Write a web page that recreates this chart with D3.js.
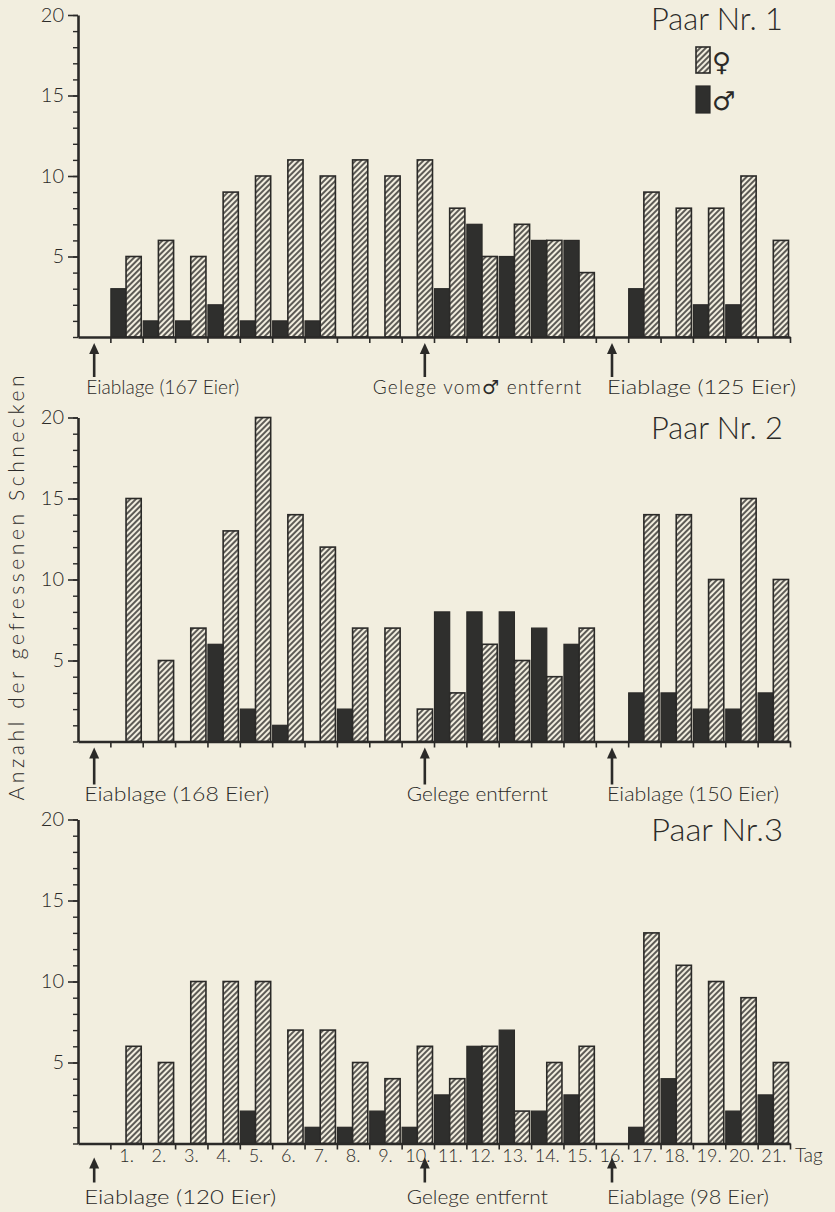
<!DOCTYPE html>
<html>
<head>
<meta charset="utf-8">
<script src="https://cdn.jsdelivr.net/npm/d3@7"></script>
<style>
  body { margin: 0; background: #f2eedf; }
  svg { display: block; }
</style>
</head>
<body>
<script>
// data: snails eaten per day, female (hatched) and male (black)
const days = d3.range(1, 22);
const yTicks = [0, 5, 10, 15, 20];
const titles = ["Paar Nr. 1", "Paar Nr. 2", "Paar Nr.3"];

const female1 = [5, 6, 5, 9, 10, 11, 10, 11, 10, 11, 8, 5, 7, 6, 4, 0, 9, 8, 8, 10, 6];
const male1   = [3, 1, 1, 2, 1, 1, 1, 0, 0, 0, 3, 7, 5, 6, 6, 0, 3, 0, 2, 2, 0];
const female2 = [15, 5, 7, 13, 20, 14, 12, 7, 7, 2, 3, 6, 5, 4, 7, 0, 14, 14, 10, 15, 10];
const male2   = [0, 0, 0, 6, 2, 1, 0, 2, 0, 0, 8, 8, 8, 7, 6, 0, 3, 3, 2, 2, 3];
const female3 = [6, 5, 10, 10, 10, 7, 7, 5, 4, 6, 4, 6, 2, 5, 6, 0, 13, 11, 10, 9, 5];
const male3   = [0, 0, 0, 0, 2, 0, 1, 1, 2, 1, 3, 6, 7, 2, 3, 0, 1, 4, 0, 2, 3];

// events under each panel (day index, label)
const events1 = [{ day: 0, label: "Eiablage (167 Eier)" }, { day: 10, label: "Gelege vom\u2642 entfernt" }, { day: 16, label: "Eiablage (125 Eier)" }];
const events2 = [{ day: 0, label: "Eiablage (168 Eier)" }, { day: 10, label: "Gelege entfernt" }, { day: 16, label: "Eiablage (150 Eier)" }];
const events3 = [{ day: 0, label: "Eiablage (120 Eier)" }, { day: 10, label: "Gelege entfernt" }, { day: 16, label: "Eiablage (98 Eier)" }];

// ---- layout / style
var paper = "#f2eedf";
var ink = "#2b2a28";
var fontF = "Lato, 'DejaVu Sans', sans-serif";

const panels = [
  { female: female1, male: male1, events: events1, base: 337, top: 15, arrow: [6, 40], textY: 57, widths: [153, 198, 189], shift: [-8, -52, -5] },
  { female: female2, male: male2, events: events2, base: 741.5, top: 417.5, arrow: [6, 43], textY: 59, widths: [185, 141, 172], shift: [-10, -18, -5] },
  { female: female3, male: male3, events: events3, base: 1143.5, top: 819.5, arrow: [14, 39], textY: 60, widths: [192, 141, 162], shift: [-10, -18, -5] }
];
const arrowShift = [0, 7, 0];

const svg = d3.select("body").append("svg")
  .attr("width", 835)
  .attr("height", 1212);

svg.append("rect").attr("width", 835).attr("height", 1212).attr("fill", paper);

const defs = svg.append("defs");
const pat = defs.append("pattern")
  .attr("id", "hatch")
  .attr("patternUnits", "userSpaceOnUse")
  .attr("width", 4).attr("height", 4)
  .attr("patternTransform", "rotate(45)");
pat.append("rect").attr("width", 4).attr("height", 4).attr("fill", paper);
pat.append("line").attr("x1", 1).attr("y1", 0).attr("x2", 1).attr("y2", 4)
  .attr("stroke", ink).attr("stroke-width", 1.5);

// X scale: band 0 is the day of egg laying, then days 1..21
const x = d3.scaleBand().domain(d3.range(0, 22)).range([78, 790]).padding(0);
const bw = x.bandwidth();
const xSub = d3.scaleBand().domain(["m", "f"]).range([0.5, bw - 1.5]).padding(0);
const xEdge = d3.scaleLinear().domain([0, 22]).range([78, 790]);

panels.forEach(function (p, pi) {
  const g = svg.append("g");
  const y = d3.scaleLinear().domain([0, 20]).range([p.base, p.top]);

  const rows = days.map(function (d, i) {
    return { day: d, f: p.female[i], m: p.male[i] };
  });

  // male bars (black)
  g.selectAll(".male")
    .data(rows.filter(d => d.m > 0))
    .enter().append("rect")
    .attr("x", d => x(d.day) + xSub("m"))
    .attr("y", d => y(d.m))
    .attr("width", xSub.bandwidth())
    .attr("height", d => y(0) - y(d.m))
    .attr("fill", "#2f2f2d")
    .attr("stroke", ink)
    .attr("stroke-width", 1.2);

  // female bars (hatched)
  g.selectAll(".female")
    .data(rows.filter(d => d.f > 0))
    .enter().append("rect")
    .attr("x", d => x(d.day) + xSub("f"))
    .attr("y", d => y(d.f))
    .attr("width", xSub.bandwidth())
    .attr("height", d => y(0) - y(d.f))
    .attr("fill", "url(#hatch)")
    .attr("stroke", ink)
    .attr("stroke-width", 1.6);

  // minor y ticks
  g.append("g")
    .attr("transform", `translate(78,0)`)
    .call(d3.axisLeft(y).ticks(20).tickSize(5).tickFormat(""))
    .call(a => a.select(".domain").remove())
    .selectAll("line").attr("stroke", ink).attr("stroke-width", 1.4);

  // major y ticks with labels
  const yAx = g.append("g")
    .attr("transform", `translate(78,0)`)
    .call(d3.axisLeft(y).tickValues(yTicks.filter(v => v > 0)).tickSize(10).tickPadding(4).tickSizeOuter(0));
  yAx.select(".domain").attr("stroke", ink).attr("stroke-width", 2.6);
  yAx.selectAll("line").attr("stroke", ink).attr("stroke-width", 1.6);
  yAx.selectAll("text")
    .style("font-family", fontF)
    .style("font-weight", 300)
    .style("font-size", "20px")
    .attr("fill", ink);

  // x axis baseline with day ticks
  const xAx = g.append("g")
    .attr("transform", `translate(0,${p.base})`)
    .call(d3.axisBottom(xEdge).tickValues(d3.range(1, 23)).tickSize(6).tickFormat("").tickSizeOuter(0));
  xAx.select(".domain").attr("stroke", ink).attr("stroke-width", 2.6);
  xAx.selectAll("line").attr("stroke", ink).attr("stroke-width", 1.6);

  // panel title
  g.append("text")
    .attr("x", 651)
    .attr("y", p.top + (pi === 0 ? 15 : 21))
    .attr("textLength", 132)
    .attr("lengthAdjust", "spacingAndGlyphs")
    .style("font-family", fontF)
    .style("font-weight", 300)
    .style("font-size", "31px")
    .attr("fill", ink)
    .text(titles[pi]);

  // day labels only under the last panel
  if (pi === 2) {
    g.selectAll(".daylab")
      .data(days)
      .enter().append("text")
      .attr("x", d => x(d) + bw / 2)
      .attr("y", p.base + 18)
      .attr("text-anchor", "middle")
      .style("font-family", fontF)
      .style("font-weight", 300)
      .style("font-size", "18px")
      .attr("fill", ink)
      .text(d => d + ".");
    g.append("text")
      .attr("x", 795)
      .attr("y", p.base + 18)
      .style("font-family", fontF)
      .style("font-weight", 300)
      .style("font-size", "19px")
      .attr("fill", ink)
      .text("Tag");
  }

  // event arrows and labels
  p.events.forEach(function (ev, ei) {
    const ax = x(ev.day) + bw / 2 + arrowShift[ei];
    const y1 = p.base + p.arrow[0], y2 = p.base + p.arrow[1];
    g.append("line")
      .attr("x1", ax).attr("x2", ax)
      .attr("y1", y1 + 8).attr("y2", y2)
      .attr("stroke", ink).attr("stroke-width", 2.6);
    g.append("path")
      .attr("d", `M${ax},${y1} L${ax - 5},${y1 + 11} L${ax + 5},${y1 + 11} Z`)
      .attr("fill", ink);
    const t = g.append("text")
      .attr("x", ax + p.shift[ei])
      .attr("y", p.base + p.textY)
      .style("font-family", fontF)
      .style("font-weight", 300)
      .style("font-size", "19px")
      .attr("fill", ink);
    if (ev.label.indexOf("\u2642") < 0) {
      t.attr("textLength", p.widths[ei])
        .attr("lengthAdjust", "spacingAndGlyphs")
        .text(ev.label);
    } else {
      // the male sign needs a font that has it, so no textLength here
      t.style("letter-spacing", "1.2px");
      ev.label.split(/(\u2642)/).forEach(function (part) {
        if (part === "") return;
        const ts = t.append("tspan").text(part);
        if (part === "\u2642") {
          ts.style("font-family", "'DejaVu Sans', sans-serif").style("font-weight", 400).style("font-size", "19px");
        }
      });
    }
  });
});

// legend (top right of first panel)
const leg = svg.append("g");
leg.append("rect").attr("x", 696).attr("y", 47).attr("width", 14).attr("height", 26)
  .attr("fill", "url(#hatch)").attr("stroke", ink).attr("stroke-width", 1.6);
leg.append("rect").attr("x", 696).attr("y", 86).attr("width", 14).attr("height", 27)
  .attr("fill", "#2f2f2d").attr("stroke", ink).attr("stroke-width", 1.2);
leg.append("text").attr("x", 712).attr("y", 71)
  .style("font-family", "'DejaVu Sans', sans-serif").style("font-size", "26px").attr("fill", ink)
  .text("\u2640");
leg.append("text").attr("x", 712).attr("y", 110)
  .style("font-family", "'DejaVu Sans', sans-serif").style("font-size", "26px").attr("fill", ink)
  .text("\u2642");

// shared y axis title
svg.append("text")
  .attr("transform", "translate(24,588) rotate(-90)")
  .attr("text-anchor", "middle")
  .attr("textLength", 425)
  .attr("lengthAdjust", "spacing")
  .style("font-family", fontF)
  .style("font-weight", 300)
  .style("font-size", "21px")
  .attr("fill", ink)
  .text("Anzahl der gefressenen Schnecken");
</script>
</body>
</html>
